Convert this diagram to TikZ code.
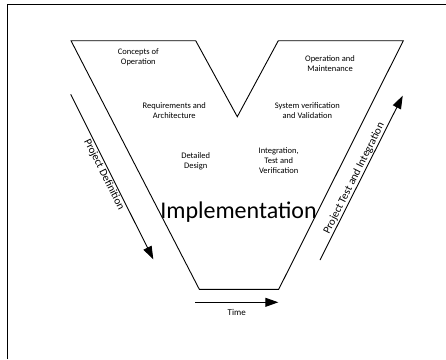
\documentclass[tikz,border=0pt]{standalone}
\usepackage{fontspec}
\setmainfont{Carlito}
\usetikzlibrary{arrows.meta}
\tikzstyle{phase} = [align=center, inner sep=1pt, font=\fontsize{8.5}{10}\selectfont]
\tikzstyle{vline} = [line width=0.9pt, line join=miter]
\tikzstyle{arrow} = [line width=0.9pt, -{Triangle[length=13pt, width=9pt]}]
\tikzstyle{sidelabel} = [sloped, inner sep=1pt, font=\fontsize{11}{13}\selectfont]

\begin{document}
\begin{tikzpicture}[x=1pt, y=-1pt]
    \useasboundingbox (0,0) rectangle (446,359);
    % frame
    \draw [line width=1.4pt] (7.5,359) -- (7.5,4.5) -- (446,4.5);
    % the V
    \coordinate (tl) at (71,40.7);
    \coordinate (ti) at (195.7,40.7);
    \coordinate (notch) at (237.3,116.7);
    \coordinate (tj) at (278.3,40.7);
    \coordinate (tr) at (403.3,40.7);
    \coordinate (br) at (278.7,289.3);
    \coordinate (bl) at (199.3,289.3);
    \draw [vline] (tl) -- (ti) -- (notch) -- (tj) -- (tr) -- (br) -- (bl) -- cycle;
    % phases
    \node [phase] at (138.3,57) (concepts) {Concepts of\\Operation};
    \node [phase] at (330,63.3) (operation) {Operation and\\Maintenance};
    \node [phase] at (174.3,110.7) (requirements) {Requirements and\\Architecture};
    \node [phase] at (307.3,110.7) (verification) {System verification\\and Validation};
    \node [phase] at (195.7,161) (design) {Detailed\\Design};
    \node [phase] at (278.7,161) (integration) {Integration,\\Test and\\Verification};
    \node [anchor=base, inner sep=0pt, font=\fontsize{24}{28}\selectfont] at (238.5,218) (impl) {Implementation};
    % side arrows
    \coordinate (defstart) at (70.7,94.3);
    \coordinate (defend) at (153.3,259.3);
    \coordinate (teststart) at (320,260);
    \coordinate (testend) at (402.7,95.7);
    \draw [arrow] (defstart) -- node[sidelabel, below, pos=0.47] {Project Definition} (defend);
    \draw [arrow] (teststart) -- node[sidelabel, above, pos=0.48] {Project Test and Integration} (testend);
    % time
    \coordinate (timestart) at (195,302.3);
    \coordinate (timeend) at (278.3,302.3);
    \draw [arrow] (timestart) -- (timeend);
    \node [font=\fontsize{9}{11}\selectfont, inner sep=1pt] at (236.7,312.3) (time) {Time};
\end{tikzpicture}
\end{document}
